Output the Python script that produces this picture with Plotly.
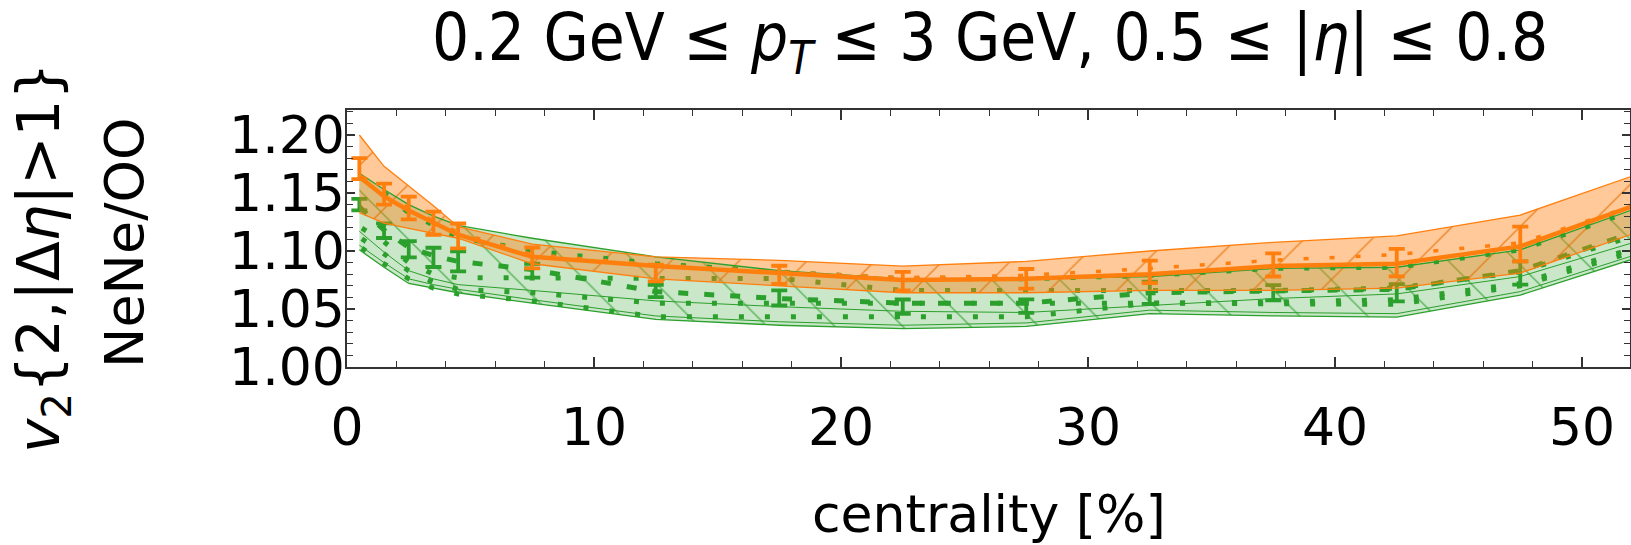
import plotly.graph_objects as go

# ---------------- data ----------------
x_model = [0.5, 1.5, 2.5, 3.5, 4.5, 7.5, 12.5, 17.5, 22.5, 27.5, 32.5, 37.5, 42.5, 47.5, 52.5]

orange_upper = [1.200, 1.173, 1.156, 1.139, 1.121, 1.106, 1.095, 1.092, 1.087, 1.091, 1.100, 1.1075, 1.113, 1.131, 1.168]
orange_lower = [1.133, 1.124, 1.1195, 1.115, 1.111, 1.089, 1.076, 1.070, 1.064, 1.064, 1.066, 1.066, 1.068, 1.081, 1.118]
orange_center = [1.164, 1.147, 1.135, 1.124, 1.114, 1.095, 1.087, 1.081, 1.075, 1.076, 1.080, 1.087, 1.089, 1.104, 1.142]
orange_dotted = [1.166, 1.149, 1.137, 1.126, 1.116, 1.097, 1.088, 1.082, 1.077, 1.079, 1.085, 1.092, 1.097, 1.107, 1.142]

green_upper = [1.167, 1.153, 1.140, 1.130, 1.122, 1.111, 1.095, 1.083, 1.076, 1.076, 1.078, 1.085, 1.086, 1.101, 1.139]
green_lower = [1.101, 1.086, 1.072, 1.068, 1.064, 1.055, 1.041, 1.036, 1.033, 1.035, 1.046, 1.044, 1.043, 1.062, 1.096]
green_lower2 = [1.105, 1.090, 1.076, 1.071, 1.067, 1.058, 1.044, 1.039, 1.036, 1.038, 1.049, 1.047, 1.046, 1.065, 1.099]
green_mid = [1.117, 1.099, 1.083, 1.076, 1.071, 1.066, 1.057, 1.052, 1.048, 1.047, 1.053, 1.059, 1.063, 1.078, 1.110]
green_dashed = [1.138, 1.118, 1.103, 1.096, 1.091, 1.084, 1.065, 1.059, 1.055, 1.055, 1.064, 1.065, 1.067, 1.083, 1.119]
green_dot1 = [1.164, 1.150, 1.133, 1.122, 1.112, 1.100, 1.089, 1.082, 1.076, 1.076, 1.079, 1.085, 1.086, 1.101, 1.138]
green_dot2 = [1.121, 1.108, 1.090, 1.080, 1.077, 1.0765, 1.0764, 1.0764, 1.066, 1.066, 1.066, 1.066, 1.068, 1.082, 1.116]
green_dot3 = [1.112, 1.098, 1.083, 1.073, 1.067, 1.064, 1.055, 1.055, 1.055, 1.054, 1.055, 1.056, 1.058, 1.072, 1.105]
green_dot4 = [1.104, 1.089, 1.076, 1.068, 1.063, 1.057, 1.0434, 1.0434, 1.0434, 1.0434, 1.055, 1.055, 1.054, 1.070, 1.102]

x_data = [0.5, 1.5, 2.5, 3.5, 4.5, 7.5, 12.5, 17.5, 22.5, 27.5, 32.5, 37.5, 42.5, 47.5]
orange_data = [1.171, 1.149, 1.137, 1.124, 1.113, 1.094, 1.081, 1.0795, 1.074, 1.076, 1.082, 1.088, 1.090, 1.106]
orange_err = [0.009, 0.009, 0.0098, 0.010, 0.0107, 0.009, 0.0072, 0.0078, 0.008, 0.0085, 0.0097, 0.010, 0.0118, 0.015]
green_data = [1.140, 1.1175, 1.1015, 1.0945, 1.091, 1.083, 1.0655, 1.0595, 1.052, 1.0525, 1.064, 1.064, 1.064, 1.081]
green_err = [0.005, 0.0063, 0.007, 0.0083, 0.0086, 0.006, 0.0053, 0.0065, 0.0062, 0.0058, 0.0095, 0.0065, 0.0075, 0.0100]

x_ticks = [0, 10, 20, 30, 40, 50]
y_ticks = [1.00, 1.05, 1.10, 1.15, 1.20]

title_text = "0.2 GeV ≤ <i>p</i><sub><i>T</i></sub> ≤ 3 GeV, 0.5 ≤ |<i>η</i>| ≤ 0.8"
xlabel = "centrality [%]"
ylabel1 = "<i>v</i><sub>2</sub>{2,|Δ<i>η</i>|>1}"
ylabel2 = "NeNe/OO"

# ---------------- style ----------------
ORANGE = "#ff7f0e"
GREEN = "#2ca02c"
FONT = "DejaVu Sans"
DOTS = "0px,3px,5px,18px"

W, H = 1631, 545
L, R, T, B = 347, 1, 110, 178
PX_PER_X = 24.7
PX_PER_Y = 1160.0
plot_w = W - L - R
plot_h = H - T - B
x_range = [0, plot_w / PX_PER_X]
y_range = [1.0, 1.0 + plot_h / PX_PER_Y]


def px2paper(px, py):
    return (px - L) / plot_w, (H - B - py) / plot_h


fig = go.Figure()


def band(lower, upper, fillcolor, fg, shape):
    fig.add_trace(go.Scatter(
        x=x_model + x_model[::-1], y=upper + lower[::-1],
        mode="lines", line=dict(width=0), fill="toself",
        fillcolor=fillcolor,
        fillpattern=dict(shape=shape, size=48, solidity=0.03,
                         fgcolor=fg, bgcolor=fillcolor, fgopacity=0.8),
        hoverinfo="skip", showlegend=False))


def line(y, color, width, dash="solid"):
    fig.add_trace(go.Scatter(x=x_model, y=y, mode="lines",
                             line=dict(color=color, width=width, dash=dash),
                             hoverinfo="skip", showlegend=False))


def bars(y, err, color):
    fig.add_trace(go.Scatter(
        x=x_data, y=y, mode="markers",
        marker=dict(size=1, color="rgba(0,0,0,0)"),
        error_y=dict(type="data", array=err, color=color, thickness=3.8, width=8),
        hoverinfo="skip", showlegend=False))


# green model band and curves
band(green_lower, green_upper, "rgba(44,160,44,0.25)", "rgba(44,160,44,0.9)", "\\")
line(green_dot2, GREEN, 5, DOTS)
line(green_dot3, GREEN, 5, DOTS)
line(green_dot4, GREEN, 5, DOTS)
line(green_dashed, GREEN, 5, "10px,16px")
bars(green_data, green_err, GREEN)

# orange model band
band(orange_lower, orange_upper, "rgba(255,127,14,0.42)", "rgba(230,110,0,0.9)", "/")

# band edge lines and remaining curves
line(green_upper, GREEN, 1.3)
line(green_lower, GREEN, 1.3)
line(green_lower2, GREEN, 1.0)
line(green_mid, GREEN, 1.0)
line(green_dot1, GREEN, 5, DOTS)
line(orange_upper, ORANGE, 1.3)
line(orange_lower, ORANGE, 1.3)
line(orange_dotted, ORANGE, 3.5, DOTS)
line(orange_center, ORANGE, 4.5)
bars(orange_data, orange_err, ORANGE)

axis_common = dict(
    showline=True, linecolor="#333", linewidth=1.5, mirror="ticks",
    ticks="inside", tickcolor="#333", tickwidth=1.5,
    showgrid=False, zeroline=False,
    tickfont=dict(family=FONT, size=52, color="black"),
)

fig.update_xaxes(range=x_range, tickvals=x_ticks, ticklen=10,
                 ticklabelstandoff=14,
                 minor=dict(ticks="inside", dtick=2, ticklen=6, tickcolor="#333", tickwidth=1.2),
                 **axis_common)
fig.update_yaxes(range=y_range, tickvals=y_ticks, tickformat=".2f", ticklen=8,
                 ticklabelstandoff=-10,
                 minor=dict(ticks="inside", dtick=0.01, ticklen=6, tickcolor="#333", tickwidth=1.2),
                 **axis_common)

annots = []
tx, ty = px2paper(990, 42)
annots.append(dict(text=title_text, x=tx, y=ty, xref="paper", yref="paper",
                   xanchor="center", yanchor="middle", showarrow=False,
                   font=dict(family="DejaVu Sans Condensed, DejaVu Sans", size=65, color="black")))
tx, ty = px2paper(989, 514)
annots.append(dict(text=xlabel, x=tx, y=ty, xref="paper", yref="paper",
                   xanchor="center", yanchor="middle", showarrow=False,
                   font=dict(family=FONT, size=52, color="black")))
tx, ty = px2paper(43, 258)
annots.append(dict(text=ylabel1, x=tx, y=ty, xref="paper", yref="paper",
                   xanchor="center", yanchor="middle", showarrow=False, textangle=-90,
                   font=dict(family=FONT, size=58, color="black")))
tx, ty = px2paper(125, 243)
annots.append(dict(text=ylabel2, x=tx, y=ty, xref="paper", yref="paper",
                   xanchor="center", yanchor="middle", showarrow=False, textangle=-90,
                   font=dict(family=FONT, size=54, color="black")))

fig.update_layout(
    width=W, height=H,
    margin=dict(l=L, r=R, t=T, b=B, autoexpand=False),
    paper_bgcolor="white", plot_bgcolor="white",
    showlegend=False, annotations=annots,
    font=dict(family=FONT),
)

fig.write_html("out.html")
